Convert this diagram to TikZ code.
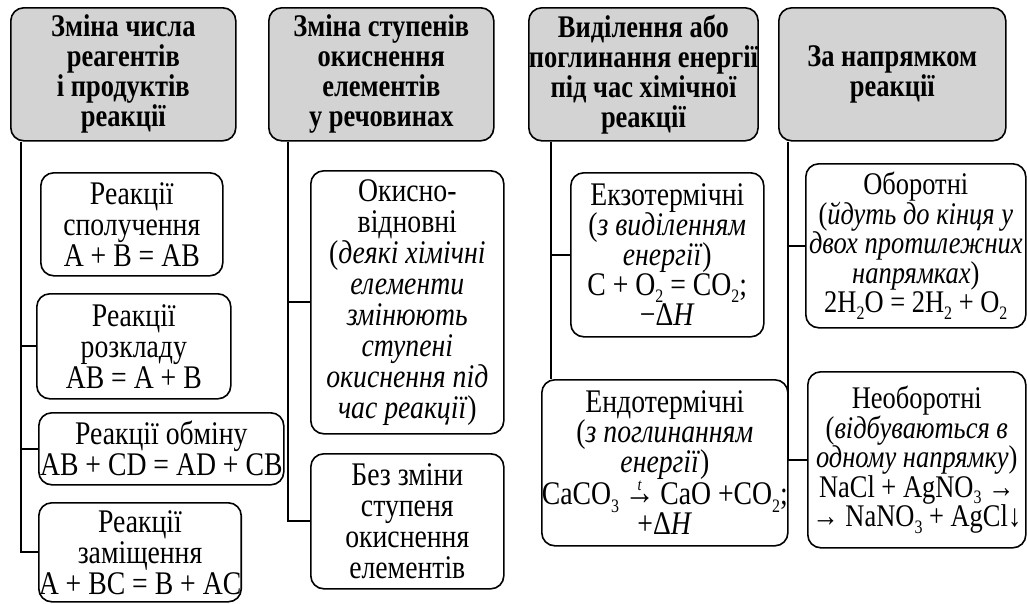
\documentclass[tikz,border=0pt]{standalone}
\usepackage{fontspec}
\setmainfont{Liberation Serif}[FakeStretch=0.84]
\definecolor{hdr}{RGB}{211,211,211}
\newcommand\ix[1]{\raisebox{-0.22em}{\fontsize{19}{19}\selectfont #1}}
\newcommand\tarr{\setbox0\hbox{\fontsize{36}{30}\selectfont→}\rlap{\hbox to \wd0{\hss\raisebox{0.45em}{\fontsize{17}{17}\selectfont\itshape t}\hss}}\box0}
\begin{document}
\begin{tikzpicture}[x=1pt,y=-1pt,
  hdrbox/.style={draw, line width=1.6pt, rounded corners=13pt, fill=hdr, anchor=north west,
    inner sep=0pt, align=center, font=\fontsize{31.5}{30}\selectfont\bfseries},
  itembox/.style={draw, line width=1.6pt, rounded corners=13pt, anchor=north west,
    inner sep=0pt, align=center, font=\fontsize{33}{31}\selectfont},
  tightbox/.style={itembox, font=\fontsize{33}{30}\selectfont},
  narrowbox/.style={itembox, font=\fontsize{31.5}{29.5}\selectfont},
  link/.style={line width=2pt}]
\useasboundingbox (0,0) rectangle (1027,603);
% headers
\node[hdrbox, minimum width=225pt, minimum height=133pt] (h1) at (10,7)
  {Зміна числа\\реагентів\\і продуктів\\реакції};
\node[hdrbox, minimum width=225pt, minimum height=133pt] (h2) at (268,7)
  {Зміна ступенів\\окиснення\\елементів\\у речовинах};
\node[hdrbox, minimum width=225pt, minimum height=133pt] (h3) at (528,7)
  {Виділення або\\поглинання енергії\\під час хімічної\\реакції};
\node[hdrbox, minimum width=227pt, minimum height=133pt] (h4) at (778,7)
  {За напрямком\\реакції};
% column 1
\node[itembox, minimum width=182pt, minimum height=103pt] (b1) at (40,172)
  {Реакції\\сполучення\\A + B = AB};
\node[itembox, minimum width=194pt, minimum height=105pt] (b2) at (36,293)
  {Реакції\\розкладу\\AB = A + B};
\node[itembox, minimum width=245pt, minimum height=72pt] (b3) at (38,412)
  {Реакції обміну\\AB + CD = AD + CB};
\node[itembox, minimum width=195pt, minimum height=99pt] (b4) at (38,502)
  {Реакції\\заміщення\\A + BC = B + AC};
% column 2
\node[itembox, minimum width=193pt, minimum height=263pt] (c1) at (310,170)
  {Окисно-\\відновні\\(\textit{деякі хімічні}\\\textit{елементи}\\\textit{змінюють}\\\textit{ступені}\\\textit{окиснення під}\\\textit{час реакції})};
\node[itembox, minimum width=193pt, minimum height=135pt] (c2) at (310,453)
  {Без зміни\\ступеня\\окиснення\\елементів};
% column 3
\node[tightbox, minimum width=193pt, minimum height=164pt] (d1) at (570,172)
  {Екзотермічні\\(\textit{з виділенням}\\\textit{енергії})\\C + O\ix{2} = CO\ix{2};\\−Δ\textit{H}};
\node[tightbox, minimum width=229pt, minimum height=166pt] (d2) at (541,379)
  {Ендотермічні\\(\textit{з поглинанням}\\\textit{енергії})\\CaCO\ix{3}\,\tarr\,CaO +CO\ix{2};\\+Δ\textit{H}};
% column 4
\node[narrowbox, minimum width=220pt, minimum height=164pt] (e1) at (805,163)
  {Оборотні\\(\textit{йдуть до кінця у}\\\textit{двох протилежних}\\\textit{напрямках})\\2H\ix{2}O = 2H\ix{2} + O\ix{2}};
\node[narrowbox, minimum width=218pt, minimum height=176pt] (e2) at (807,371)
  {Необоротні\\(\textit{відбуваються в}\\\textit{одному напрямку})\\NaCl + AgNO\ix{3} →\\→ NaNO\ix{3} + AgCl↓};
% connectors
\coordinate (v1) at ([xshift=11pt]h1.south west);
\coordinate (v2) at ([xshift=20pt]h2.south west);
\coordinate (v3) at ([xshift=23pt]h3.south west);
\coordinate (v4) at ([xshift=10pt]h4.south west);
\draw[link] (v1) |- (b4.west);
\draw[link] (v1 |- b2.west) -- (b2.west);
\draw[link] (v1 |- b3.west) -- (b3.west);
\draw[link] (v2) |- (c2.west);
\draw[link] (v2 |- c1.west) -- (c1.west);
\draw[link] (v3) -- (v3 |- d2.north);
\draw[link] (v3 |- d1.west) -- (d1.west);
\draw[link] (v4) |- (e2.west);
\draw[link] (v4 |- e1.west) -- (e1.west);
\end{tikzpicture}
\end{document}
